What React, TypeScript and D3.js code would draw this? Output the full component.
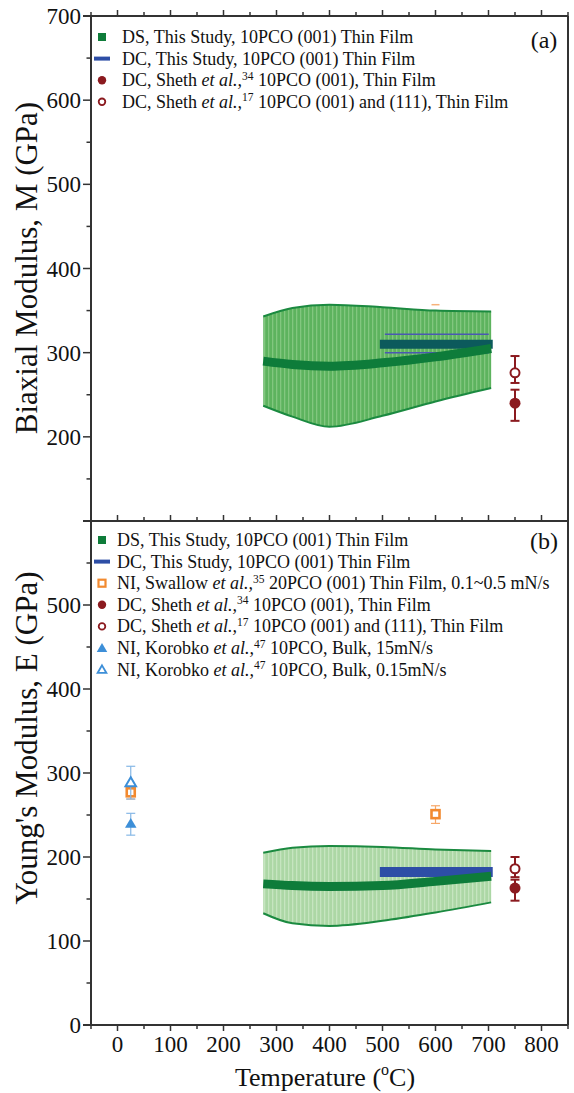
import React from 'react';
import * as d3 from 'd3';

// temperature axis (shared by both panels)
const xTicksMajor = [0, 100, 200, 300, 400, 500, 600, 700, 800];
const xTicksMinor = [-50, 50, 150, 250, 350, 450, 550, 650, 750, 850];
const yTicksA = [200, 300, 400, 500, 600, 700];
const yTicksB = [0, 100, 200, 300, 400, 500];

// DS, this study: band of values along temperature
const bandTemps = [275, 330, 400, 500, 600, 705];
const dsCenterA = [290, 286, 284, 288, 295, 305];
const dsUpperA = [343, 353, 357, 354, 350, 349];
const dsLowerA = [237, 224, 212, 225, 242, 258];
const dsCenterB = [168, 166, 165, 166, 171, 177];
const dsUpperB = [205, 211, 213, 212, 209, 207];
const dsLowerB = [133, 121, 118, 124, 134, 146];

// DC, this study (500-700 C)
const dcTemps = [495, 708];
const dcValueA = 310;
const dcErrA = [300, 322];
const dcValueB = 182;

// literature points: [temperature, value, low, high]
const sheth34A = [750, 240, 219, 256];
const sheth17A = [750, 276, 264, 296];
const strayA = [600, 357];
const sheth34B = [750, 163, 148, 173];
const sheth17B = [750, 186, 176, 200];
const swallowB = [[25, 277, 269, 283], [600, 251, 240, 261]];
const korobko15B = [25, 240, 226, 252];
const korobko015B = [25, 289, 269, 308];

const legendA = [
  { key: 'ds', pre: 'DS, This Study, 10PCO (001) Thin Film' },
  { key: 'dc', pre: 'DC, This Study, 10PCO (001) Thin Film' },
  { key: 's34', pre: 'DC, Sheth ', it: 'et al.,', sup: '34', post: ' 10PCO (001), Thin Film' },
  { key: 's17', pre: 'DC, Sheth ', it: 'et al.,', sup: '17', post: ' 10PCO (001) and (111), Thin Film' },
];
const legendB = [
  { key: 'ds', pre: 'DS, This Study, 10PCO (001) Thin Film' },
  { key: 'dc', pre: 'DC, This Study, 10PCO (001) Thin Film' },
  { key: 'sw', pre: 'NI, Swallow ', it: 'et al.,', sup: '35', post: ' 20PCO (001) Thin Film, 0.1~0.5 mN/s' },
  { key: 's34', pre: 'DC, Sheth ', it: 'et al.,', sup: '34', post: ' 10PCO (001), Thin Film' },
  { key: 's17', pre: 'DC, Sheth ', it: 'et al.,', sup: '17', post: ' 10PCO (001) and (111), Thin Film' },
  { key: 'k15', pre: 'NI, Korobko ', it: 'et al.,', sup: '47', post: ' 10PCO, Bulk, 15mN/s' },
  { key: 'k015', pre: 'NI, Korobko ', it: 'et al.,', sup: '47', post: ' 10PCO, Bulk, 0.15mN/s' },
];

const FONT = '"Liberation Serif", "Times New Roman", serif';
const AXIS = '#333';
const GREEN = '#0e7c3a';
const BLUE = '#2d4ea6';
const RED = '#8b1a1f';
const ORANGE = '#f28a30';
const TRI = '#3d8fd8';

const x = d3.scaleLinear().domain([-50, 850]).range([91, 568]);
const yA = d3.scaleLinear().domain([100, 700]).range([521, 16]);
const yB = d3.scaleLinear().domain([0, 600]).range([1025, 521]);

const tri = (cx, cy, s) => `M${cx},${cy - s}L${cx + s * 1.05},${cy + s * 0.8}L${cx - s * 1.05},${cy + s * 0.8}Z`;

const ErrBar = ({ t, lo, hi, y, color, w = 1, cap = 4.5 }) => (
  <g stroke={color} strokeWidth={w}>
    <line x1={x(t)} x2={x(t)} y1={y(lo)} y2={y(hi)} />
    <line x1={x(t) - cap} x2={x(t) + cap} y1={y(lo)} y2={y(lo)} />
    <line x1={x(t) - cap} x2={x(t) + cap} y1={y(hi)} y2={y(hi)} />
  </g>
);

const Marker = ({ k, cx, cy }) => {
  switch (k) {
    case 'ds':
      return <rect x={cx - 4} y={cy - 4} width={8} height={8} fill={GREEN} />;
    case 'dc':
      return <line x1={cx - 8} x2={cx + 8} y1={cy} y2={cy} stroke={BLUE} strokeWidth={4} />;
    case 's34':
      return <circle cx={cx} cy={cy} r={4.2} fill={RED} />;
    case 's17':
      return <circle cx={cx} cy={cy} r={3.3} fill="white" stroke={RED} strokeWidth={1.8} />;
    case 'sw':
      return <rect x={cx - 3.5} y={cy - 3.5} width={7} height={7} fill="white" stroke={ORANGE} strokeWidth={2.2} />;
    case 'k15':
      return <path d={tri(cx, cy, 5)} fill={TRI} />;
    case 'k015':
      return <path d={tri(cx, cy, 4.2)} fill="white" stroke={TRI} strokeWidth={1.8} />;
    default:
      return null;
  }
};

const Legend = ({ items, top, textX }) => (
  <g>
    {items.map((it, i) => {
      const cy = top + i * 21.6;
      return (
        <g key={it.key}>
          <Marker k={it.key} cx={102} cy={cy} />
          <text x={textX} y={cy + 6} fontSize={18} fontFamily={FONT} fill="#111">
            <tspan>{it.pre}</tspan>
            {it.it && <tspan fontStyle="italic">{it.it}</tspan>}
            {it.sup && <tspan fontSize={11.5} dy={-6.5}>{it.sup}</tspan>}
            {it.post && <tspan dy={it.sup ? 6.5 : 0}>{it.post}</tspan>}
          </text>
        </g>
      );
    })}
  </g>
);

const Band = ({ y, upper, lower, pattern }) => {
  const area = d3.area().x((d) => x(d)).y0((d, i) => y(lower[i])).y1((d, i) => y(upper[i])).curve(d3.curveMonotoneX);
  const top = d3.line().x((d) => x(d)).y((d, i) => y(upper[i])).curve(d3.curveMonotoneX);
  const bot = d3.line().x((d) => x(d)).y((d, i) => y(lower[i])).curve(d3.curveMonotoneX);
  return (
    <g>
      <path d={area(bandTemps)} fill={`url(#${pattern})`} />
      <path d={top(bandTemps)} fill="none" stroke="#1b8a40" strokeWidth={2} />
      <path d={bot(bandTemps)} fill="none" stroke="#1b8a40" strokeWidth={2} />
    </g>
  );
};

const CenterLine = ({ y, center }) => {
  const line = d3.line().x((d) => x(d)).y((d, i) => y(center[i])).curve(d3.curveMonotoneX);
  return <path d={line(bandTemps)} fill="none" stroke={GREEN} strokeWidth={9} />;
};

const Frame = ({ y, top, bottom, ticks, minor, labels, bottomTicks }) => (
  <g fontFamily={FONT} fontSize={23} fill="#111">
    <line x1={x(-50)} x2={x(-50)} y1={top} y2={bottom} stroke={AXIS} strokeWidth={2} />
    <line x1={x(850)} x2={x(850)} y1={top} y2={bottom} stroke={AXIS} strokeWidth={2} />
    <line x1={x(-50) - 8} x2={x(850)} y1={top} y2={top} stroke={AXIS} strokeWidth={2} />
    {xTicksMajor.map((t) => (
      <line key={`tm${t}`} x1={x(t)} x2={x(t)} y1={top} y2={top - 6} stroke={AXIS} strokeWidth={1.5} />
    ))}
    {xTicksMinor.map((t) => (
      <line key={`tn${t}`} x1={x(t)} x2={x(t)} y1={top} y2={top - 4} stroke={AXIS} strokeWidth={1.5} />
    ))}
    {ticks.map((t) => (
      <line key={`ym${t}`} x1={x(-50) - 8} x2={x(-50)} y1={y(t)} y2={y(t)} stroke={AXIS} strokeWidth={1.5} />
    ))}
    {minor.map((t) => (
      <line key={`yn${t}`} x1={x(-50) - 4.5} x2={x(-50)} y1={y(t)} y2={y(t)} stroke={AXIS} strokeWidth={1.5} />
    ))}
    {labels.map((t) => (
      <text key={`yl${t}`} x={81} y={y(t) + 8} textAnchor="end" fill="#111">
        {t}
      </text>
    ))}
    {bottomTicks && (
      <g>
        <line x1={x(-50) - 8} x2={x(850)} y1={bottom} y2={bottom} stroke={AXIS} strokeWidth={2} />
        {xTicksMajor.map((t) => (
          <g key={`bm${t}`}>
            <line x1={x(t)} x2={x(t)} y1={bottom} y2={bottom + 6} stroke={AXIS} strokeWidth={1.5} />
            <text x={x(t)} y={bottom + 27} textAnchor="middle">{t}</text>
          </g>
        ))}
        {xTicksMinor.map((t) => (
          <line key={`bn${t}`} x1={x(t)} x2={x(t)} y1={bottom} y2={bottom + 4} stroke={AXIS} strokeWidth={1.5} />
        ))}
      </g>
    )}
  </g>
);

export default function App() {
  const minorA = d3.range(150, 700, 100);
  const minorB = d3.range(50, 600, 100);
  return (
    <svg width={574} height={1093} style={{ position: 'absolute', left: 0, top: 0, background: 'white' }}>
      <defs>
        <pattern id="streakA" width={4} height={20} patternUnits="userSpaceOnUse">
          <rect width={4} height={20} fill="#5db35e" />
          <rect width={1.3} height={20} fill="#82c77f" />
        </pattern>
        <pattern id="streakB" width={4} height={20} patternUnits="userSpaceOnUse">
          <rect width={4} height={20} fill="#acd7a5" />
          <rect width={1.3} height={20} fill="#c6e5c0" />
        </pattern>
      </defs>

      {/* panel (a) */}
      <Band y={yA} upper={dsUpperA} lower={dsLowerA} pattern="streakA" />
      {dcErrA.map((v) => (
        <line key={v} x1={x(dcTemps[0]) + 5} x2={x(dcTemps[1]) - 4} y1={yA(v)} y2={yA(v)} stroke="#4a58b2" strokeWidth={1.5} />
      ))}
      <line x1={x(dcTemps[0])} x2={x(dcTemps[1])} y1={yA(dcValueA)} y2={yA(dcValueA)} stroke="#0c5a5c" strokeWidth={9} />
      <CenterLine y={yA} center={dsCenterA} />
      <line x1={x(strayA[0]) - 4} x2={x(strayA[0]) + 4} y1={yA(strayA[1])} y2={yA(strayA[1])} stroke="#f7b27a" strokeWidth={1.5} />
      <ErrBar t={sheth17A[0]} lo={sheth17A[2]} hi={sheth17A[3]} y={yA} color={RED} w={2} />
      <ErrBar t={sheth34A[0]} lo={sheth34A[2]} hi={sheth34A[3]} y={yA} color={RED} w={2} />
      <circle cx={x(sheth17A[0])} cy={yA(sheth17A[1])} r={4.5} fill="white" stroke={RED} strokeWidth={2} />
      <circle cx={x(sheth34A[0])} cy={yA(sheth34A[1])} r={5.5} fill={RED} />

      {/* panel (b) */}
      <Band y={yB} upper={dsUpperB} lower={dsLowerB} pattern="streakB" />
      <line x1={x(dcTemps[0])} x2={x(dcTemps[1])} y1={yB(dcValueB)} y2={yB(dcValueB)} stroke={BLUE} strokeWidth={10} />
      <CenterLine y={yB} center={dsCenterB} />
      {swallowB.map((p) => (
        <g key={p[0]}>
          <ErrBar t={p[0]} lo={p[2]} hi={p[3]} y={yB} color="#f7a768" w={1.2} />
          <rect x={x(p[0]) - 4} y={yB(p[1]) - 4} width={8} height={8} fill="white" stroke={ORANGE} strokeWidth={2.6} />
        </g>
      ))}
      <ErrBar t={korobko015B[0]} lo={korobko015B[2]} hi={korobko015B[3]} y={yB} color="#86b8e6" w={1.2} />
      <ErrBar t={korobko15B[0]} lo={korobko15B[2]} hi={korobko15B[3]} y={yB} color="#86b8e6" w={1.2} />
      <path d={tri(x(korobko015B[0]), yB(korobko015B[1]), 5)} fill="white" stroke={TRI} strokeWidth={2} />
      <path d={tri(x(korobko15B[0]), yB(korobko15B[1]), 5.5)} fill={TRI} />
      <ErrBar t={sheth17B[0]} lo={sheth17B[2]} hi={sheth17B[3]} y={yB} color={RED} w={2} />
      <ErrBar t={sheth34B[0]} lo={sheth34B[2]} hi={sheth34B[3]} y={yB} color={RED} w={2} />
      <circle cx={x(sheth17B[0])} cy={yB(sheth17B[1])} r={4.5} fill="white" stroke={RED} strokeWidth={2} />
      <circle cx={x(sheth34B[0])} cy={yB(sheth34B[1])} r={5.5} fill={RED} />

      <Frame y={yA} top={16} bottom={521} ticks={d3.range(100, 701, 100)} minor={minorA} labels={yTicksA} />
      <Frame y={yB} top={521} bottom={1025} ticks={d3.range(0, 601, 100)} minor={minorB} labels={yTicksB} bottomTicks />

      <Legend items={legendA} top={37} textX={122} />
      <Legend items={legendB} top={540} textX={117} />
      <text x={544} y={48} textAnchor="middle" fontFamily={FONT} fontSize={24} fill="#111">(a)</text>
      <text x={544} y={549} textAnchor="middle" fontFamily={FONT} fontSize={24} fill="#111">(b)</text>

      <text transform="translate(37,268) rotate(-90)" textAnchor="middle" fontFamily={FONT} fontSize={31} fill="#111">
        Biaxial Modulus, M (GPa)
      </text>
      <text transform="translate(37,738) rotate(-90)" textAnchor="middle" fontFamily={FONT} fontSize={31} fill="#111">
        Young's Modulus, E (GPa)
      </text>
      <text x={325} y={1086} textAnchor="middle" fontFamily={FONT} fontSize={26} fill="#111">
        Temperature (<tspan fontSize={16} dy={-11}>o</tspan><tspan dy={11}>C)</tspan>
      </text>
    </svg>
  );
}
